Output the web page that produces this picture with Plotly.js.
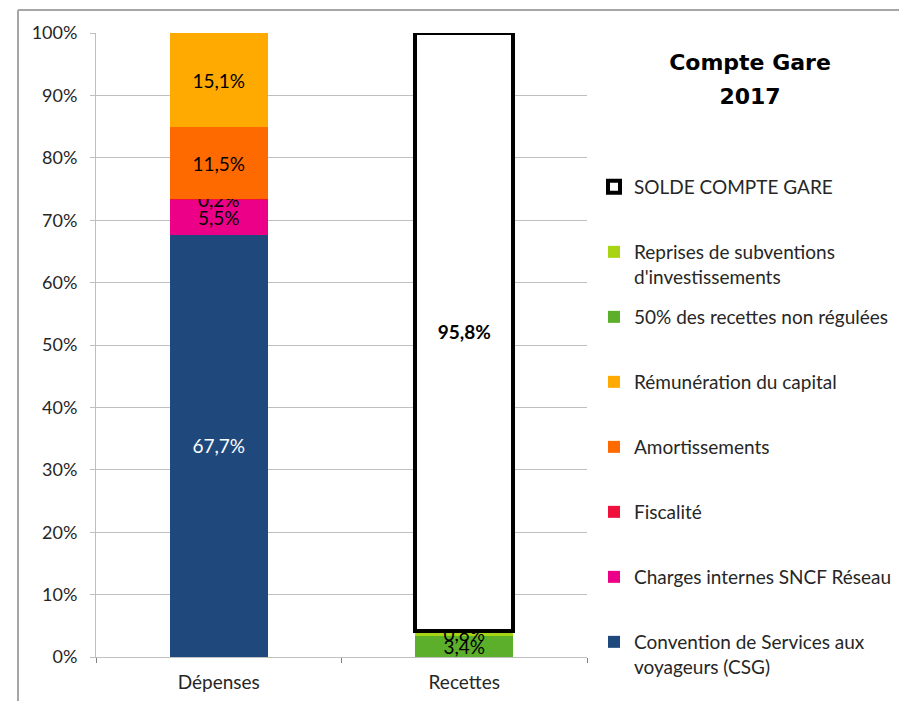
<!DOCTYPE html>
<html>
<head>
<meta charset="utf-8">
<script src="https://cdn.plot.ly/plotly-3.0.1.min.js"></script>
<style>html,body{margin:0;padding:0;background:#fff;}#chart{width:899px;height:701px;}</style>
</head>
<body>
<div id="chart"></div>
<script>
const categories = ['Dépenses', 'Recettes'];
const seriesNames = [
  'Convention de Services aux<br>voyageurs (CSG)',
  'Charges internes SNCF Réseau',
  'Fiscalité',
  'Amortissements',
  'Rémunération du capital',
  '50% des recettes non régulées',
  'Reprises de subventions<br>d\'investissements',
  'SOLDE COMPTE GARE'
];
const csg = [67.7, null];
const chargesInternes = [5.5, null];
const fiscalite = [0.2, null];
const amortissements = [11.5, null];
const remuneration = [15.1, null];
const recettesNonRegulees = [null, 3.4];
const reprisesSubventions = [null, 0.8];
const soldeCompteGare = [null, 95.8];
const yTickLabels = ['0%','10%','20%','30%','40%','50%','60%','70%','80%','90%','100%'];

const seriesValues = [csg, chargesInternes, fiscalite, amortissements, remuneration, recettesNonRegulees, reprisesSubventions, soldeCompteGare];
const colors = ['#1F497D', '#EC0088', '#F0103C', '#FF6A00', '#FFAA00', '#5BAF2B', '#A8D414', '#FFFFFF'];
const textColors = ['#FFFFFF', '#000000', '#000000', '#000000', '#000000', '#000000', '#000000', '#000000'];
const font = 'Lato, "Open Sans", sans-serif';

const fmt = v => (v == null ? '' : v.toFixed(1).replace('.', ',') + '%');

const traces = seriesValues.map((vals, i) => ({
  type: 'bar',
  x: categories,
  y: vals,
  name: seriesNames[i].indexOf('<br>') >= 0 ? seriesNames[i] : seriesNames[i] + '<br> ',
  legendgroup: 'g' + i,
  legendrank: 1000 - i * 10,
  text: vals.map(fmt),
  textposition: 'inside',
  insidetextanchor: 'middle',
  constraintext: 'none',
  cliponaxis: false,
  textfont: {family: font, size: 19, color: textColors[i], weight: i === 7 ? 'bold' : 'normal'},
  marker: {
    color: colors[i],
    line: i === 7 ? {color: '#000000', width: 4} : {width: 0}
  },
  hoverinfo: 'x+y+name'
}));

const layout = {
  width: 899,
  height: 701,
  barmode: 'stack',
  bargap: 0.6,
  separators: ',.',
  paper_bgcolor: '#FFFFFF',
  plot_bgcolor: '#FFFFFF',
  margin: {l: 96, r: 312, t: 33, b: 44},
  font: {family: font, size: 19, color: '#262626'},
  title: {
    text: '<b><span style="font-size:22px">Compte Gare</span><br><span style="font-size:22px">2017</span></b>',
    x: 750 / 899,
    xref: 'container',
    xanchor: 'center',
    y: 1 - 70 / 701,
    yref: 'container',
    yanchor: 'top',
    font: {family: '"DejaVu Sans", sans-serif', size: 26.5, color: '#000000'}
  },
  xaxis: {
    type: 'category',
    showgrid: false,
    showline: true,
    linecolor: '#BFBFBF',
    linewidth: 1,
    ticks: 'outside',
    tickson: 'boundaries',
    ticklen: 5,
    tickcolor: '#808080',
    ticklabelstandoff: 8,
    tickfont: {family: font, size: 19, color: '#262626'},
    fixedrange: true
  },
  yaxis: {
    range: [0, 100],
    tickmode: 'array',
    tickvals: [0,10,20,30,40,50,60,70,80,90,100],
    ticktext: yTickLabels,
    showgrid: true,
    gridcolor: '#BFBFBF',
    gridwidth: 1,
    showline: true,
    linecolor: '#BFBFBF',
    ticks: 'outside',
    ticklen: 5,
    tickcolor: '#BFBFBF',
    ticklabelstandoff: 9,
    zeroline: false,
    tickfont: {family: font, size: 18, color: '#262626'},
    fixedrange: true
  },
  legend: {
    x: 594 / 899,
    xref: 'container',
    xanchor: 'left',
    y: 1 - 168 / 701,
    yref: 'container',
    yanchor: 'top',
    traceorder: 'grouped',
    tracegroupgap: 12.6,
    valign: 'top',
    itemwidth: 30,
    maxheight: 700,
    font: {family: font, size: 19, color: '#262626'},
    bgcolor: 'rgba(0,0,0,0)'
  },
  shapes: [
    {type: 'line', xref: 'paper', yref: 'paper', x0: -78 / 491, x1: 812 / 491, y0: 1 + 23 / 624, y1: 1 + 23 / 624, line: {color: '#A6A6A6', width: 2}},
    {type: 'line', xref: 'paper', yref: 'paper', x0: -78 / 491, x1: -78 / 491, y0: 1 + 23 / 624, y1: -50 / 624, line: {color: '#A6A6A6', width: 2}}
  ]
};

Plotly.newPlot('chart', traces, layout, {displayModeBar: false, staticPlot: true});
</script>
</body>
</html>
